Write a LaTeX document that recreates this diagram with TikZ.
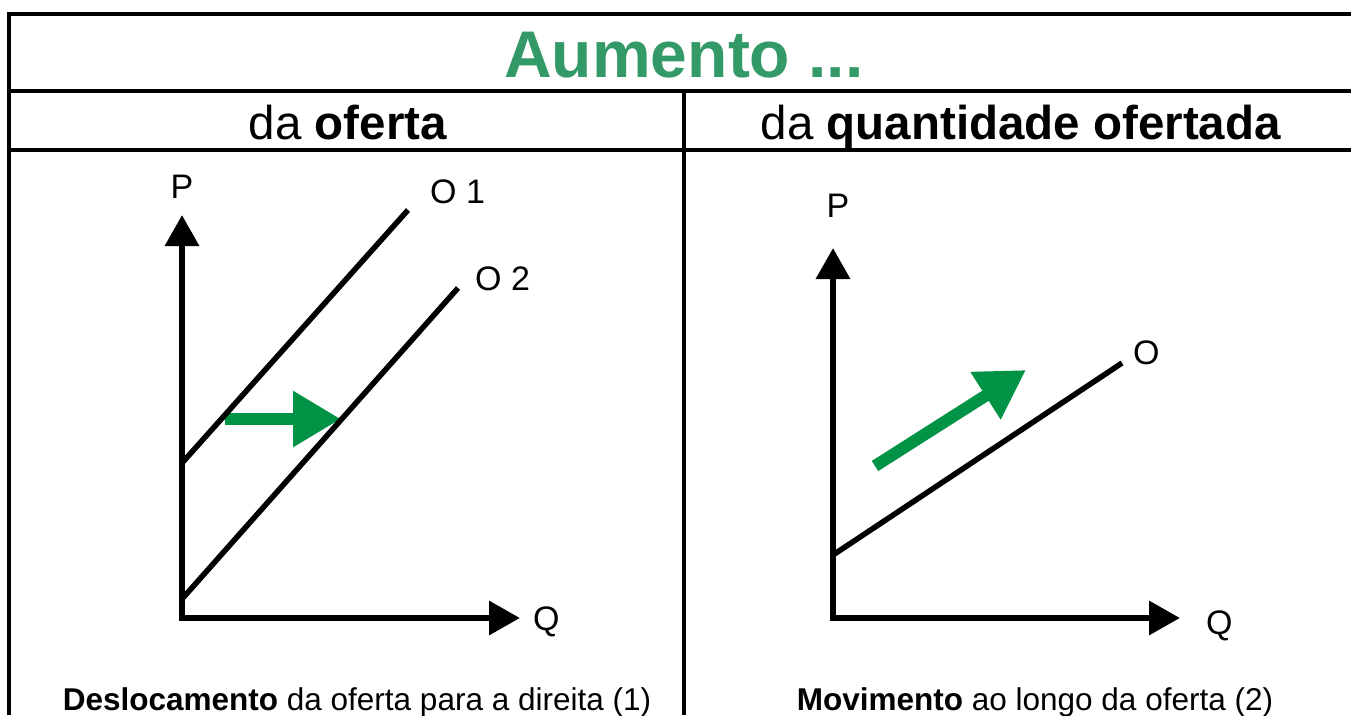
\documentclass[tikz,border=0pt]{standalone}
\usepackage{fontspec}
\setmainfont{Liberation Sans}
\usetikzlibrary{arrows.meta}
\usetikzlibrary{calc}
\definecolor{titlegreen}{RGB}{51,153,102}
\definecolor{arrowgreen}{RGB}{0,146,69}

\begin{document}
\begin{tikzpicture}[x=1pt, y=-1pt]
        % ================= styles =================
        \tikzset{
            % table rules
            rule/.style={line width=4.5pt, black},
            % axes with arrow heads at both ends
            axes/.style={line width=6.5pt, black, {Triangle[length=31pt, width=33pt]}-{Triangle[length=31pt, width=33pt]}},
            % supply curves
            supply/.style={line width=5.5pt, black},
            % green movement arrows
            gshift/.style={line width=12pt, arrowgreen, -{Triangle[length=48pt, width=53pt]}},
            % texts
            titletext/.style={font=\fontsize{66}{66}\selectfont\bfseries, text=titlegreen, inner sep=0pt, anchor=base},
            headtext/.style={font=\fontsize{47.5}{47.5}\selectfont, inner sep=0pt, anchor=base},
            foottext/.style={font=\fontsize{31.5}{31.5}\selectfont, inner sep=0pt, anchor=base},
            axlabel/.style={font=\fontsize{34}{34}\selectfont, inner sep=0pt, anchor=base},
            curvelabel/.style={font=\fontsize{34}{34}\selectfont, inner sep=0pt, anchor=base west}
        }
        \useasboundingbox (0,0) rectangle (1351,715);

        % ================= table =================
        \draw[rule] (1351,14) -- (9,14) -- (9,715);
        \draw[rule] (9,91) -- (1351,91);
        \draw[rule] (9,150) -- (1351,150);
        \draw[rule] (684,91) -- (684,715);

        \node[titletext] (title) at (684,77) {Aumento ...};
        \node[headtext] (head_l) at (348,139) {da \textbf{oferta}};
        \node[headtext] (head_r) at (1021,139) {da \textbf{quantidade ofertada}};

        % ================= left graph: shift of supply =================
        \coordinate (l_o) at (182,618);
        \coordinate (l_ptip) at (182,215);
        \coordinate (l_qtip) at (520,618);
        \coordinate (o1_a) at (182,463);
        \coordinate (o1_b) at (408,210);
        \coordinate (o2_a) at (182,599);
        \coordinate (o2_b) at (458,288);
        \coordinate (ls_a) at (225,419);
        \coordinate (ls_b) at (341,419);

        \draw[gshift] (ls_a) -- (ls_b);
        \draw[supply] (o1_a) -- (o1_b);
        \draw[supply] (o2_a) -- (o2_b);
        \draw[axes] (l_ptip) -- (l_o) -- (l_qtip);

        \node[axlabel] (l_p) at (182,198) {P};
        \node[curvelabel] (l_o1) at (430,203) {O 1};
        \node[curvelabel] (l_o2) at (475,290) {O 2};
        \node[curvelabel] (l_q) at (533,630) {Q};

        % ================= right graph: movement along supply =================
        \coordinate (r_o) at (833,618);
        \coordinate (r_ptip) at (833,248);
        \coordinate (r_qtip) at (1180,618);
        \coordinate (o_a) at (833,555);
        \coordinate (o_b) at (1122,363);
        \coordinate (rs_a) at (875,466);
        \coordinate (rs_b) at (1026,370);

        \draw[gshift] (rs_a) -- (rs_b);
        \draw[supply] (o_a) -- (o_b);
        \draw[axes] (r_ptip) -- (r_o) -- (r_qtip);

        \node[axlabel] (r_p) at (838,217) {P};
        \node[curvelabel] (r_ol) at (1133,364) {O};
        \node[curvelabel] (r_q) at (1206,634) {Q};

        % ================= captions =================
        \node[foottext] (foot_l) at (357,710) {\textbf{Deslocamento} da oferta para a direita (1)};
        \node[foottext] (foot_r) at (1035,710) {\textbf{Movimento} ao longo da oferta (2)};

    \end{tikzpicture}
\end{document}
